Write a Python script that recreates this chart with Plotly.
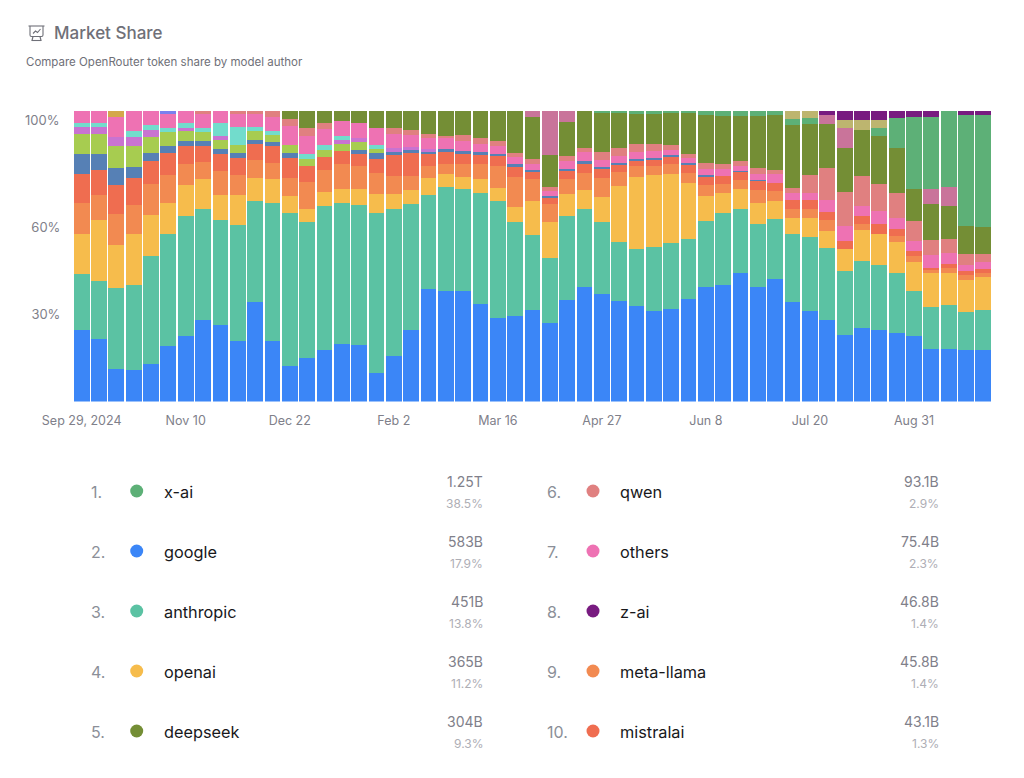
"""Market share chart: weekly token share by model author, with ranked key below."""
import pandas as pd
import plotly.graph_objects as go

# weekly share per author (percent of the bar, bottom to top)
GOOGLE = [24.6, 21.5, 11.2, 10.9, 13.0, 19.1, 22.5, 28.1, 26.3, 20.9, 34.4, 20.9, 12.3, 15.1, 17.8, 19.9, 19.4, 9.7,
          15.8, 24.6, 38.8, 38.0, 38.0, 33.8, 28.9, 29.6, 31.5, 27.1, 35.2, 39.6, 37.0, 34.7, 33.1, 31.3, 32.0, 35.2,
          39.3, 40.0, 44.4, 39.4, 42.2, 34.4, 31.2, 28.3, 23.0, 25.2, 24.5, 23.7, 22.5, 18.1, 18.1, 17.7, 17.7]
ANTHROPIC = [19.3, 20.0, 28.1, 29.1, 37.3, 38.6, 41.4, 38.2, 36.2, 39.8, 34.6, 47.4, 52.6, 46.9, 49.6, 48.7, 48.4, 55.4,
             50.6, 43.6, 32.5, 36.0, 35.4, 38.2, 40.2, 32.3, 26.1, 22.2, 28.8, 26.8, 24.7, 20.2, 19.6, 22.1, 22.8, 20.7,
             22.8, 24.8, 22.0, 21.6, 20.9, 23.3, 25.6, 24.6, 21.9, 23.2, 22.4, 20.5, 15.4, 14.4, 15.1, 13.3, 14.0]
OPENAI = [13.8, 21.2, 14.7, 17.7, 14.0, 10.8, 10.8, 10.3, 8.6, 10.3, 7.9, 8.3, 5.9, 4.3, 4.7, 4.7, 5.3, 6.4,
          5.2, 4.7, 5.6, 4.3, 4.0, 4.7, 4.4, 5.3, 11.6, 12.5, 7.6, 6.6, 8.7, 19.2, 24.7, 24.7, 23.7, 19.4,
          8.7, 6.9, 6.7, 7.5, 6.2, 5.5, 6.3, 5.9, 7.8, 10.6, 10.8, 10.7, 10.1, 11.8, 11.0, 11.0, 11.2]
META_LLAMA = [10.7, 8.4, 10.6, 10.0, 10.7, 9.3, 7.1, 6.1, 8.3, 7.0, 6.2, 5.5, 6.3, 9.2, 7.8, 8.6, 7.9, 7.2,
              6.2, 4.8, 4.4, 3.7, 4.5, 5.2, 7.8, 10.4, 7.6, 6.2, 5.2, 5.9, 6.6, 4.9, 3.8, 3.2, 3.5, 3.5,
              3.9, 3.2, 3.3, 4.4, 3.2, 3.0, 3.2, 3.7, 0, 2.2, 0, 2.2, 2.1, 0.9, 1.7, 1.7, 1.4]
MISTRALAI = [10.1, 8.6, 10.0, 9.3, 7.9, 7.9, 6.2, 5.4, 5.7, 5.9, 5.7, 6.2, 6.9, 5.5, 4.5, 4.5, 4.3, 4.8,
             7.2, 7.8, 3.9, 4.0, 3.5, 3.2, 3.3, 3.3, 2.3, 2.1, 2.9, 3.1, 3.0, 2.6, 2.1, 2.2, 2.5, 2.8,
             3.0, 2.8, 2.8, 3.1, 3.0, 3.0, 3.2, 2.8, 2.6, 2.8, 3.3, 2.4, 1.8, 0.8, 1.6, 1.3, 1.3]
# the authors below are not named in the key, so they go by colour
SLATE = [6.8, 5.6, 5.9, 3.9, 2.9, 2.3, 1.7, 1.5, 1.7, 1.7, 1.4, 1.3, 1.8, 0, 0, 0, 1.4, 2.0,
         1.1, 1.1, 0.9, 1.0, 1.1, 0.9, 0.7, 0.9, 0.8, 0.7, 0.7, 1.0, 0.8, 0.6, 0.6, 0.6, 0.6, 0.6,
         0.2, 0, 0.3, 0.2, 0, 0, 0, 0, 0, 0, 0, 0, 0, 0, 0, 0, 0]
LIME = [6.8, 6.8, 7.6, 7.2, 5.4, 4.7, 3.6, 3.1, 3.2, 2.8, 3.1, 2.3, 2.6, 2.6, 2.3, 2.3, 2.6, 1.4,
        0, 0, 0, 0, 0, 0, 0, 0, 0, 0, 0, 0, 0, 0, 0, 0, 0, 0,
        0, 0, 0, 0, 0, 0, 0, 0, 0, 0, 0, 0, 0, 0, 0, 0, 0]
VIOLET = [2.5, 2.5, 3.2, 3.0, 2.3, 0, 1.0, 0, 1.4, 0, 0, 0, 0, 0, 0, 1.4, 1.4, 0,
          1.1, 1.1, 0.8, 0, 0, 0, 0, 0, 0, 0, 0, 0, 0, 0, 0, 0, 0, 0,
          0, 0, 0, 0, 0, 0, 0, 0, 0, 0, 0, 0, 0, 0, 0, 0, 0]
AQUA = [1.3, 1.3, 0, 2.1, 1.8, 1.6, 1.5, 1.7, 4.6, 6.3, 1.4, 1.5, 0, 1.6, 1.7, 1.4, 0, 1.5,
        0, 0, 0, 0, 0, 0, 0, 0, 0, 0, 0, 0, 0, 0, 0, 0, 0, 0,
        0, 0, 0, 0, 0, 0, 0, 0, 0, 0, 0, 0, 0, 0, 0, 0, 0]
OTHERS = [4.3, 4.3, 7.0, 6.9, 4.8, 4.6, 4.3, 4.6, 4.0, 4.3, 4.3, 4.6, 6.7, 6.4, 5.5, 5.4, 5.4, 6.0,
          4.9, 4.3, 3.8, 3.8, 3.5, 2.9, 2.8, 2.4, 2.0, 1.8, 2.8, 3.0, 2.5, 2.3, 2.2, 2.2, 1.7, 1.7,
          2.3, 2.3, 1.7, 2.2, 2.8, 2.5, 2.4, 4.4, 5.4, 3.3, 4.6, 3.8, 3.4, 4.5, 3.6, 2.1, 2.5]
QWEN = [0, 0, 0, 0, 0, 0, 0, 1.1, 0, 1.1, 1.1, 2.2, 2.4, 2.6, 2.1, 0, 0, 0,
        2.1, 1.4, 1.6, 0.8, 2.0, 2.0, 1.8, 1.6, 1.7, 1.3, 1.5, 1.6, 2.8, 2.9, 2.8, 2.4, 1.6, 1.6,
        2.1, 1.7, 1.8, 2.0, 1.6, 1.8, 6.0, 10.8, 11.5, 10.4, 9.4, 8.6, 6.8, 5.3, 4.8, 3.7, 2.8]
DEEPSEEK = [0, 0, 0, 0, 0, 0, 0, 0, 0, 0, 0, 0, 2.6, 5.9, 4.1, 3.3, 4.0, 5.7,
            5.9, 6.7, 7.8, 8.6, 8.3, 9.3, 10.2, 14.4, 14.5, 11.0, 11.7, 12.7, 13.3, 12.0, 10.5, 10.5, 11.3, 14.1,
            16.4, 16.7, 15.4, 18.0, 19.0, 21.7, 17.8, 15.4, 15.1, 16.0, 16.4, 15.4, 11.0, 12.3, 11.5, 9.7, 9.2]
ROSE = [0, 0, 0, 0, 0, 0, 0, 0, 0, 0, 0, 0, 0, 0, 0, 0, 0, 0,
        0, 0, 0, 0, 0, 0, 0, 0, 2.1, 15.2, 3.9, 0, 0, 0, 0, 0, 0, 0,
        0, 0, 0, 0, 0, 0, 0, 3.1, 6.9, 0, 0, 0, 0, 5.2, 6.6, 0, 0]
X_AI = [0, 0, 0, 0, 0, 0, 0, 0, 0, 0, 0, 0, 0, 0, 0, 0, 0, 0,
        0, 0, 0, 0, 0, 0, 0, 0, 0, 0, 0, 0, 0.7, 0.7, 0.9, 1.0, 0.6, 0.6,
        1.4, 1.7, 1.7, 1.7, 1.3, 2.2, 2.0, 0, 0, 0, 2.8, 10.5, 24.8, 24.8, 26.2, 38.3, 38.6]
KHAKI = [0, 0, 0, 0, 0, 0, 0, 0, 0, 0, 0, 0, 0, 0, 0, 0, 0, 0,
         0, 0, 0, 0, 0, 0, 0, 0, 0, 0, 0, 0, 0, 0, 0, 0, 0, 0,
         0, 0, 0, 0, 0, 2.6, 2.4, 0, 2.8, 3.3, 2.9, 0, 0, 0, 0, 0, 0]
Z_AI = [0, 0, 0, 0, 0, 0, 0, 0, 0, 0, 0, 0, 0, 0, 0, 0, 0, 0,
        0, 0, 0, 0, 0, 0, 0, 0, 0, 0, 0, 0, 0, 0, 0, 0, 0, 0,
        0, 0, 0, 0, 0, 0, 0, 1.3, 3.2, 3.2, 3.0, 2.4, 2.1, 2.1, 0, 1.4, 1.5]
GOLD = [0, 0, 2.0] + [0] * 50
PERIWINKLE = [0, 0, 0, 0, 0, 1.1] + [0] * 47

SERIES = [
    ("google", GOOGLE, "#3b86f7"), ("anthropic", ANTHROPIC, "#5bc2a3"), ("openai", OPENAI, "#f6bc4c"),
    ("meta-llama", META_LLAMA, "#f28a51"), ("mistralai", MISTRALAI, "#ef6d50"), ("slate", SLATE, "#5680b5"),
    ("lime", LIME, "#a7cc50"), ("violet", VIOLET, "#c973d1"), ("aqua", AQUA, "#72dccc"),
    ("others", OTHERS, "#ee72b3"), ("qwen", QWEN, "#e08080"), ("deepseek", DEEPSEEK, "#748e35"),
    ("rose", ROSE, "#c9749a"), ("x-ai", X_AI, "#5db077"), ("khaki", KHAKI, "#bdb56f"),
    ("z-ai", Z_AI, "#781b80"), ("gold", GOLD, "#d4a84b"), ("periwinkle", PERIWINKLE, "#7a80ee"),
]

TICK_WEEKS = ["2024-09-29", "2024-11-10", "2024-12-22", "2025-02-02", "2025-03-16",
              "2025-04-27", "2025-06-08", "2025-07-20", "2025-08-31"]
TICK_LABELS = ["Sep 29, 2024", "Nov 10", "Dec 22", "Feb 2", "Mar 16", "Apr 27", "Jun 8", "Jul 20", "Aug 31"]
SHARE_TICKS = [30, 60]
SHARE_LABELS = ["30%", "60%"]

# ranked key under the chart
KEY_AUTHORS = ["x-ai", "google", "anthropic", "openai", "deepseek",
               "qwen", "others", "z-ai", "meta-llama", "mistralai"]
KEY_TOKENS = ["1.25T", "583B", "451B", "365B", "304B", "93.1B", "75.4B", "46.8B", "45.8B", "43.1B"]
KEY_SHARES = ["38.5%", "17.9%", "13.8%", "11.2%", "9.3%", "2.9%", "2.3%", "1.4%", "1.4%", "1.3%"]

assert all(len(values) == 53 for _, values, _ in SERIES)

W, H = 1024, 778
FONT = "Inter"
PLOT_L, PLOT_R, PLOT_T, PLOT_B = 73, 992, 111, 401.5

weeks = pd.date_range("2024-09-29", periods=53, freq="7D").strftime("%Y-%m-%d").tolist()
colors = {name: color for name, _, color in SERIES}

fig = go.Figure()
for name, values, color in SERIES:
    fig.add_trace(go.Bar(x=weeks, y=values, name=name, marker={"color": color, "line": {"width": 0}}))

# page-sized pixel axes carry the heading and the key
key_x, key_y = [], []
for i, author in enumerate(KEY_AUTHORS):
    left = i < 5
    row_y = 491 + 60 * (i % 5)
    rank_x, dot_x, name_x, num_x = (89, 136.7, 161.5, 484.5) if left else (545, 593, 618, 941)
    key_x.append(dot_x)
    key_y.append(row_y)
    fig.add_annotation(x=rank_x, y=row_y + 0.5, text=f"{i + 1}.", xanchor="left", xref="x2", yref="y2",
                       showarrow=False, font={"family": FONT, "size": 16, "color": "#8b8f98"})
    fig.add_annotation(x=name_x, y=row_y + 0.5, text=author, xanchor="left", xref="x2", yref="y2",
                       showarrow=False, font={"family": FONT, "size": 16.3, "color": "#18181b"})
    fig.add_annotation(x=num_x, y=row_y - 10, text=KEY_TOKENS[i], xanchor="right", xref="x2", yref="y2",
                       showarrow=False, font={"family": FONT, "size": 14, "color": "#80808a"})
    fig.add_annotation(x=num_x, y=row_y + 12, text=KEY_SHARES[i], xanchor="right", xref="x2", yref="y2",
                       showarrow=False, font={"family": FONT, "size": 12, "color": "#aeaeb5"})

fig.add_trace(go.Scatter(x=key_x, y=key_y, mode="markers", xaxis="x2", yaxis="y2", hoverinfo="skip",
                         marker={"size": 13, "color": [colors[a] for a in KEY_AUTHORS]}))

fig.add_annotation(x=52, y=32.5, text="Market Share", xanchor="left", xref="x2", yref="y2", showarrow=False,
                   font={"family": FONT, "size": 17, "color": "#6f7078", "weight": 500})
fig.add_annotation(x=24, y=62, text="Compare OpenRouter token share by model author", xanchor="left",
                   xref="x2", yref="y2", showarrow=False, font={"family": FONT, "size": 11.5, "color": "#6f7078"})
# the top tick label sits below its gridline so it stays inside the chart box
fig.add_annotation(x=61, y=120, text="100%", xanchor="right", xref="x2", yref="y2", showarrow=False,
                   font={"family": FONT, "size": 13, "color": "#80808a"})

# presentation-chart icon next to the heading
ICON = "#6f7078"
for path in ["M28.5,26 L44.5,26", "M30,26 L30,35 Q30,36.5 31.5,36.5 L41.5,36.5 Q43,36.5 43,35 L43,26",
             "M33,36.5 L32,40.5", "M40,36.5 L41,40.5", "M31.5,40.5 L41.5,40.5",
             "M33,33.5 L35.5,31 L37.5,32.5 L40.5,29"]:
    fig.add_shape(type="path", path=path, xref="x2", yref="y2", line={"color": ICON, "width": 1.1})

fig.update_layout(
    template="none", width=W, height=H, barmode="stack", barnorm="percent", bargap=0.09, showlegend=False,
    plot_bgcolor="rgba(0,0,0,0)", paper_bgcolor="white", margin={"l": 0, "r": 0, "t": 0, "b": 0},
    font={"family": FONT, "size": 13, "color": "#80808a"},
    xaxis={"domain": [PLOT_L / W, PLOT_R / W], "type": "category", "range": [-0.5, 52.5],
           "tickmode": "array", "tickvals": TICK_WEEKS, "ticktext": TICK_LABELS, "tickangle": 0,
           "tickfont": {"family": FONT, "size": 12.5, "color": "#80808a"},
           "showgrid": False, "showline": False, "zeroline": False, "automargin": False,
           "ticks": "outside", "ticklen": 7, "tickcolor": "white", "anchor": "y"},
    yaxis={"domain": [1 - PLOT_B / H, 1 - PLOT_T / H], "range": [0, 100],
           "tickmode": "array", "tickvals": SHARE_TICKS, "ticktext": SHARE_LABELS,
           "showgrid": False, "showline": False, "zeroline": False, "automargin": False,
           "ticks": "outside", "ticklen": 9, "tickcolor": "white", "anchor": "x"},
    xaxis2={"domain": [0, 1], "range": [0, W], "visible": False, "anchor": "y2", "fixedrange": True},
    yaxis2={"domain": [0, 1], "range": [H, 0], "visible": False, "anchor": "x2", "fixedrange": True},
)

fig.write_html("out.html", config={"displayModeBar": False},
               post_script="document.body.style.margin = '0';")
